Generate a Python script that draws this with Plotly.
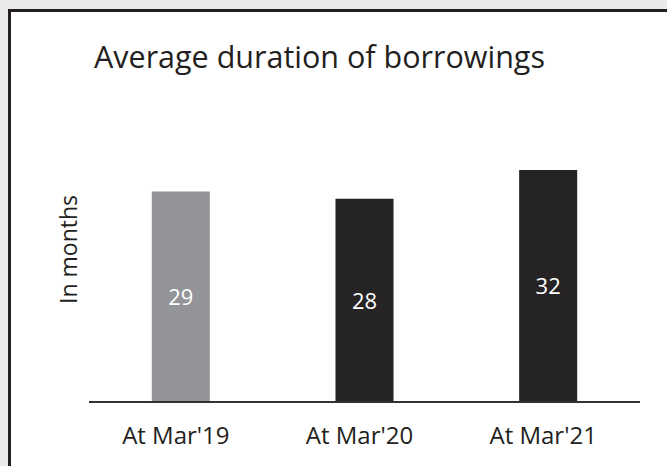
import plotly.graph_objects as go

categories = ["At Mar'19", "At Mar'20", "At Mar'21"]
values = [29, 28, 32]
bar_colors = ["#929497", "#262324", "#262324"]
title_text = "Average duration of borrowings"
y_title = "In months"

W, H = 667, 466
L, R, T, B = 89, 27, 100, 65
pw, ph = W - L - R, H - T - B
ymax = ph / 7.22

fig = go.Figure(go.Bar(
    x=categories, y=values, width=0.316,
    marker=dict(color=bar_colors, line=dict(width=0)),
    text=[str(v) for v in values], textposition="inside", insidetextanchor="middle",
    textfont=dict(color="white", size=22, family="Open Sans"),
    textangle=0, hoverinfo="skip",
))

def px_x(x):
    return (x - L) / pw

def px_y(y):
    return (H - B - y) / ph

fig.add_shape(type="rect", xref="paper", yref="paper",
              x0=px_x(9.5), x1=px_x(700), y0=px_y(500), y1=px_y(10.5),
              fillcolor="white", line=dict(color="#231f20", width=3), layer="below")

fig.add_annotation(text=title_text, xref="paper", yref="paper",
                   x=px_x(92), y=px_y(56), xanchor="left", yanchor="middle",
                   showarrow=False, font=dict(family="Open Sans", size=30.5, color="#231f20"))
fig.add_annotation(text=y_title, xref="paper", yref="paper",
                   x=px_x(68), y=px_y(250), xanchor="center", yanchor="middle",
                   textangle=-90, showarrow=False,
                   font=dict(family="Open Sans", size=23, color="#231f20"))

fig.update_layout(
    width=W, height=H, margin=dict(l=L, r=R, t=T, b=B),
    paper_bgcolor="#eaeaea", plot_bgcolor="rgba(0,0,0,0)",
    showlegend=False,
    xaxis=dict(showline=True, linecolor="#333132", linewidth=2, showgrid=False,
               ticks="", tickfont=dict(family="Open Sans", size=24, color="#231f20"),
               ticklabelstandoff=12, ticklabelshift=-5, fixedrange=True),
    yaxis=dict(range=[0, ymax], visible=False, fixedrange=True),
)

fig.write_html("out.html")
